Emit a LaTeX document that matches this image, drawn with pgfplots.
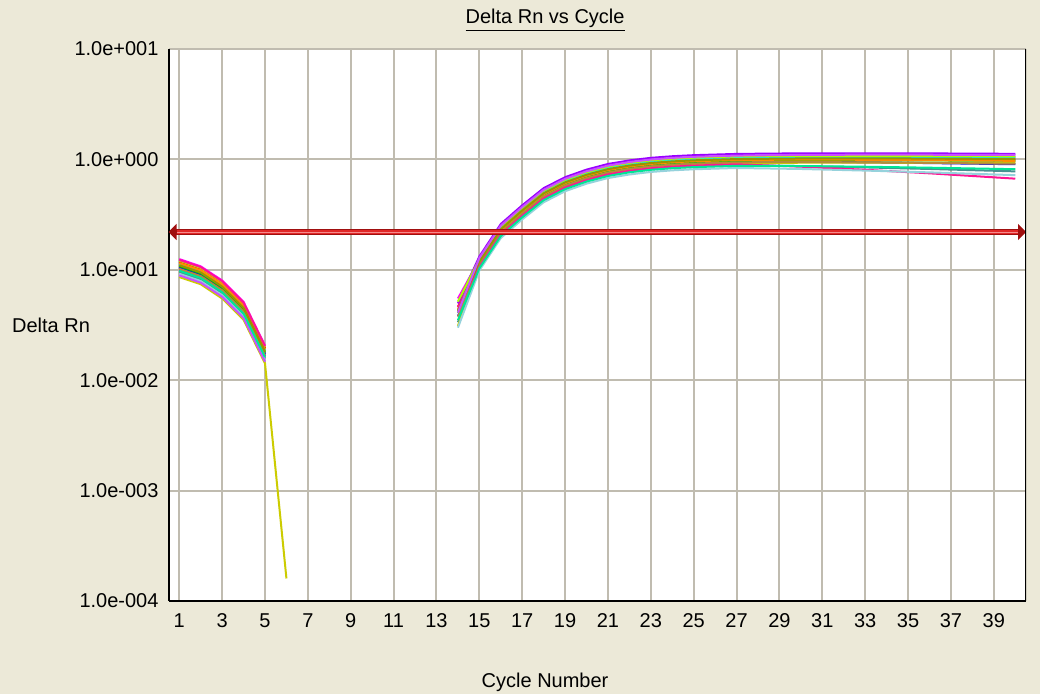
\documentclass[border=0pt]{standalone}
\usepackage{pgfplots}
\pgfplotsset{compat=1.18}
\usepackage{pgfplotstable}
\usetikzlibrary{arrows.meta}
\usepackage{fontspec}
\setmainfont{Liberation Sans}
\definecolor{bg}{RGB}{236,233,216}
\definecolor{gridc}{RGB}{192,188,176}
\definecolor{c1}{RGB}{255,0,0}
\definecolor{c2}{RGB}{255,0,255}
\definecolor{c3}{RGB}{153,0,255}
\definecolor{c4}{RGB}{0,0,255}
\definecolor{c5}{RGB}{0,240,255}
\definecolor{c6}{RGB}{70,145,145}
\definecolor{c7}{RGB}{0,200,0}
\definecolor{c8}{RGB}{170,255,0}
\definecolor{c9}{RGB}{204,204,0}
\definecolor{c10}{RGB}{255,140,0}
\definecolor{c11}{RGB}{180,140,60}
\definecolor{c12}{RGB}{255,20,147}
\definecolor{c13}{RGB}{150,210,220}
\definecolor{c14}{RGB}{150,150,0}
\definecolor{c15}{RGB}{200,80,255}
\definecolor{c16}{RGB}{0,230,150}

\pgfplotstableread{
cyc c1 c2 c3 c4 c5 c6 c7 c8 c9 c10 c11 c12 c13 c14 c15 c16
1 0.118 0.125 0.100 0.105 0.112 0.095 0.108 0.121 0.086 0.115 0.102 0.123 0.092 0.110 0.089 0.098
2 0.1015 0.1075 0.086 0.0903 0.0963 0.0817 0.0929 0.1041 0.0740 0.0989 0.0877 0.1058 0.0791 0.0946 0.0765 0.0843
3 0.0755 0.080 0.064 0.0672 0.0717 0.0608 0.0691 0.0774 0.0550 0.0736 0.0653 0.0787 0.0589 0.0704 0.0570 0.0627
4 0.0484 0.0513 0.041 0.0431 0.0459 0.0390 0.0443 0.0496 0.0353 0.0472 0.0418 0.0504 0.0377 0.0451 0.0365 0.0402
5 0.0195 0.0206 0.0165 0.0173 0.0185 0.0157 0.0178 0.0200 0.0142 0.0190 0.0168 0.0203 0.0152 0.0182 0.0147 0.0162
6 nan nan nan nan nan nan nan nan 0.00016 nan nan nan nan nan nan nan
}\early

\pgfplotstableread{
cyc c1 c2 c3 c4 c5 c6 c7 c8 c9 c10 c11 c12 c13 c14 c15 c16
14 0.0462 0.055 0.0496 0.038 0.0432 0.0335 0.0408 0.0515 0.031 0.0437 0.0376 0.0456 0.0299 0.0424 0.041 0.035
15 0.1176 0.1232 0.132 0.112 0.121 0.104 0.114 0.125 0.109 0.116 0.111 0.106 0.0986 0.119 0.128 0.103
16 0.231 0.242 0.260 0.220 0.238 0.205 0.224 0.246 0.213 0.229 0.218 0.209 0.194 0.233 0.251 0.202
17 0.341 0.358 0.384 0.325 0.351 0.302 0.332 0.364 0.315 0.338 0.322 0.309 0.286 0.345 0.371 0.299
18 0.488 0.512 0.549 0.465 0.502 0.432 0.474 0.521 0.451 0.484 0.460 0.442 0.409 0.493 0.530 0.428
19 0.614 0.644 0.690 0.585 0.632 0.544 0.597 0.655 0.567 0.608 0.579 0.556 0.515 0.620 0.667 0.538
20 0.719 0.754 0.808 0.685 0.740 0.637 0.699 0.767 0.664 0.712 0.678 0.651 0.603 0.726 0.781 0.630
21 0.809 0.847 0.909 0.770 0.832 0.716 0.785 0.862 0.747 0.801 0.762 0.732 0.678 0.816 0.878 0.708
22 0.872 0.913 0.979 0.830 0.896 0.772 0.847 0.930 0.805 0.863 0.822 0.789 0.730 0.880 0.946 0.764
23 0.919 0.963 1.033 0.875 0.945 0.814 0.893 0.980 0.849 0.910 0.866 0.831 0.770 0.928 0.998 0.805
24 0.950 0.996 1.068 0.905 0.977 0.842 0.923 1.014 0.878 0.941 0.896 0.860 0.796 0.959 1.032 0.833
25 0.971 1.018 1.092 0.925 0.999 0.860 0.944 1.036 0.897 0.962 0.916 0.879 0.814 0.981 1.055 0.851
27 0.998 1.045 1.121 0.950 1.026 0.884 0.969 1.064 0.922 0.988 0.941 0.903 0.836 1.007 1.083 0.874
30 1.010 1.058 1.135 0.950 1.044 0.870 0.981 1.077 0.933 0.996 0.946 0.859 0.819 1.020 1.099 0.871
33 1.011 1.059 1.136 0.941 1.050 0.846 0.982 1.079 0.934 0.992 0.940 0.805 0.792 1.021 1.103 0.858
36 1.008 1.056 1.133 0.926 1.051 0.819 0.979 1.075 0.931 0.985 0.930 0.748 0.763 1.018 1.102 0.841
40 1.000 1.047 1.123 0.904 1.049 0.779 0.971 1.066 0.923 0.970 0.914 0.669 0.720 1.009 1.096 0.815
}\late

\begin{document}
\begin{tikzpicture}
\fill[bg] (-126.4pt,-69.75pt) rectangle (653.6pt,450.75pt);
\begin{axis}[
  at={(0pt,0pt)}, anchor=south west, scale only axis,
  width=643.1pt, height=414pt,
  xmin=0.5, xmax=40.5, ymode=log, ymin=1e-4, ymax=10,
  xtick={1,3,...,39},
  xticklabels={1,3,5,7,9,11,13,15,17,19,21,23,25,27,29,31,33,35,37,39},
  ytick={1e-4,1e-3,1e-2,1e-1,1,10},
  yticklabels={1.0e-004,1.0e-003,1.0e-002,1.0e-001,1.0e+000,1.0e+001},
  grid=major,
  major grid style={gridc, line width=1.5pt},
  major tick length=0pt,
  minor tick length=0pt,
  axis background/.style={fill=white},
  axis x line*=bottom, axis y line*=left,
  axis line style={black, line width=1.5pt},
  tick label style={font=\fontsize{15}{17}\selectfont, black},
  xticklabel style={yshift=-6pt},
  yticklabel style={xshift=-4pt},
  unbounded coords=jump,
]
\pgfplotsinvokeforeach{1,...,16}{
  \addplot[c#1, line width=1.5pt] table[x=cyc, y=c#1] {\early};
  \addplot[c#1, line width=1.5pt] table[x=cyc, y=c#1] {\late};
}
\addplot[draw={rgb,255:red,160;green,15;blue,15}, line width=5pt,
  {Triangle[length=6pt,width=12pt]}-{Triangle[length=6pt,width=12pt]}]
  coordinates {(0.5,0.22) (40.5,0.22)};
\addplot[draw={rgb,255:red,225;green,40;blue,40}, line width=3pt, shorten <=6pt, shorten >=6pt]
  coordinates {(0.5,0.22) (40.5,0.22)};
\addplot[draw={rgb,255:red,245;green,140;blue,140}, line width=0.7pt, shorten <=6pt, shorten >=6pt]
  coordinates {(0.5,0.22) (40.5,0.22)};
\draw[black, line width=1.5pt] (rel axis cs:1,0) -- (rel axis cs:1,1);
\end{axis}
\node[font=\fontsize{15}{18}\selectfont] at (282.4pt,435.75pt) {\underline{Delta Rn vs Cycle}};
\node[font=\fontsize{15}{18}\selectfont] at (282.4pt,-60.75pt) {Cycle Number};
\node[font=\fontsize{15}{18}\selectfont] at (-88.1pt,207pt) {Delta Rn};
\end{tikzpicture}
\end{document}
